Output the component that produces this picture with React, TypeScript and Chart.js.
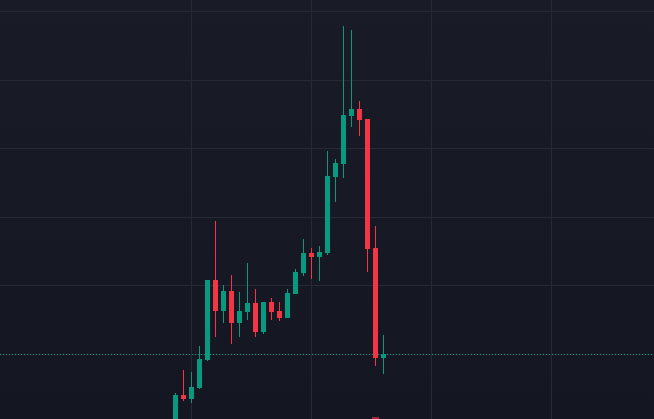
import React, { useEffect, useRef } from "react";
import { Chart, registerables } from "chart.js";

Chart.register(...registerables);

// Bar index (time slot) for each candle
const barIndex = [0, 1, 2, 3, 4, 5, 6, 7, 8, 9, 10, 11, 12, 13, 14, 15, 16, 17, 18, 19, 20, 21, 22, 23, 24, 25, 26];
const opens = [78.91, 84.01, 83.43, 85.04, 89.12, 100.8, 96.28, 99.2, 94.53, 96.13, 97.45, 93.21, 97.59, 96.28, 95.26, 98.76, 101.82, 104.74, 104.16, 104.74, 115.84, 117.74, 124.74, 125.77, 124.31, 105.47, 89.42];
const highs = [84.31, 87.66, 87.37, 91.17, 100.8, 109.42, 100.07, 101.53, 99.05, 103.28, 99.49, 97.59, 98.18, 97.59, 99.49, 102.41, 106.79, 105.47, 105.77, 119.64, 118.47, 137.88, 137.3, 126.93, 124.31, 108.69, 92.77];
const lows = [78.03, 83.14, 82.85, 84.89, 88.98, 92.48, 94.53, 91.46, 92.48, 94.96, 92.48, 92.92, 94.96, 94.82, 95.26, 98.76, 101.39, 100.95, 100.66, 104.45, 112.19, 115.69, 123.14, 121.82, 101.97, 88.25, 87.08];
const closes = [84.01, 83.43, 85.18, 89.27, 100.8, 96.28, 99.2, 94.53, 96.28, 97.45, 93.21, 97.59, 96.13, 95.26, 98.91, 101.97, 104.74, 104.16, 104.89, 115.99, 117.88, 124.89, 125.77, 124.16, 105.33, 89.42, 90.0];

// Sell marker below the big red candle
const markerIndex = [25];
const markerTop = [80.8];
const markerBottom = [76.0];

// Visible ranges and grid ticks
const xRange = [-21.9375, 59.8125];
const yRange = [80.511, 141.679];
const xGridTicks = [2, 17, 32, 47];
const yGridTicks = [90, 100, 110, 120, 130, 140];

const UP = "#089981";
const DOWN = "#f23645";
const GRID = "#262a36";

export default function App() {
  const ref = useRef<HTMLCanvasElement | null>(null);

  useEffect(() => {
    document.body.style.margin = "0";
    const canvas = ref.current;
    if (!canvas) return;

    const colors = barIndex.map((_, k) => (closes[k] >= opens[k] ? UP : DOWN));

    const bgPlugin = {
      id: "bg",
      beforeDraw(chart: any) {
        const { ctx, width, height } = chart;
        const g = ctx.createLinearGradient(0, 0, 0, height);
        g.addColorStop(0, "#191c27");
        g.addColorStop(1, "#141722");
        ctx.save();
        ctx.fillStyle = g;
        ctx.fillRect(0, 0, width, height);
        ctx.restore();
      },
    };

    const priceLinePlugin = {
      id: "priceLine",
      beforeDatasetsDraw(chart: any) {
        const { ctx, chartArea, scales } = chart;
        const last = closes.length - 1;
        const y = Math.round(scales.y.getPixelForValue(closes[last])) + 0.5;
        ctx.save();
        ctx.strokeStyle = closes[last] >= opens[last] ? UP : DOWN;
        ctx.lineWidth = 1;
        ctx.setLineDash([1, 2]);
        ctx.beginPath();
        ctx.moveTo(chartArea.left, y);
        ctx.lineTo(chartArea.right, y);
        ctx.stroke();
        ctx.restore();
      },
    };

    const chart = new Chart(canvas, {
      type: "bar",
      data: {
        datasets: [
          {
            label: "body",
            data: barIndex.map((x, k) => ({ x, y: [opens[k], closes[k]] })) as any,
            backgroundColor: colors,
            borderWidth: 0,
            maxBarThickness: 5,
            grouped: false,
            categoryPercentage: 1,
            barPercentage: 1,
            inflateAmount: 0,
          } as any,
          {
            label: "wick",
            data: barIndex.map((x, k) => ({ x, y: [lows[k], highs[k]] })) as any,
            backgroundColor: colors,
            borderWidth: 0,
            maxBarThickness: 1,
            grouped: false,
            categoryPercentage: 1,
            barPercentage: 1,
            inflateAmount: 0,
          } as any,
          {
            label: "marker",
            data: markerIndex.map((x, k) => ({ x, y: [markerBottom[k], markerTop[k]] })) as any,
            backgroundColor: "rgba(242,54,69,0.62)",
            borderWidth: 0,
            maxBarThickness: 7,
            grouped: false,
            categoryPercentage: 1,
            barPercentage: 1,
            inflateAmount: 0,
          } as any,
        ],
      },
      options: {
        responsive: false,
        animation: false,
        events: [],
        layout: { padding: 0 },
        plugins: { legend: { display: false }, tooltip: { enabled: false } },
        scales: {
          x: {
            type: "linear",
            min: xRange[0],
            max: xRange[1],
            offset: false,
            afterBuildTicks: (s: any) => {
              s.ticks = xGridTicks.map((v) => ({ value: v }));
            },
            grid: { color: GRID, lineWidth: 1, drawTicks: false, offset: false },
            border: { display: false },
            ticks: { display: false },
          },
          y: {
            type: "linear",
            min: yRange[0],
            max: yRange[1],
            afterBuildTicks: (s: any) => {
              s.ticks = yGridTicks.map((v) => ({ value: v }));
            },
            grid: { color: GRID, lineWidth: 1, drawTicks: false, offset: false },
            border: { display: false },
            ticks: { display: false },
          },
        },
      } as any,
      plugins: [bgPlugin, priceLinePlugin],
    });

    return () => chart.destroy();
  }, []);

  return (
    <canvas
      ref={ref}
      width={654}
      height={419}
      style={{ position: "fixed", left: 0, top: 0, display: "block" }}
    />
  );
}
